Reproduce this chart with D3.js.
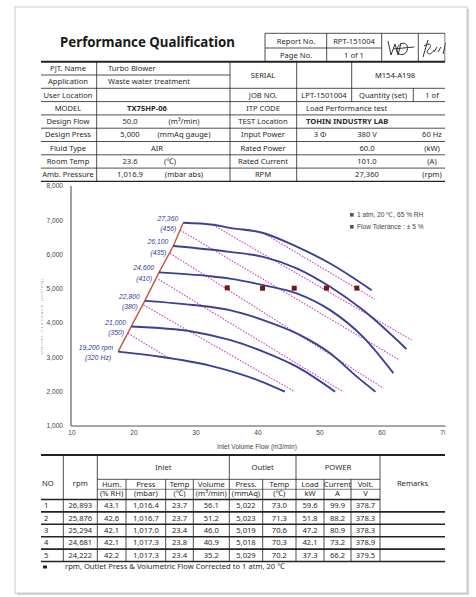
<!DOCTYPE html>
<html lang="en">
<head>
    <meta charset="UTF-8">
    <title>Performance Qualification</title>
    <script src="https://d3js.org/d3.v7.min.js"></script>
    <style>
        html, body { margin: 0; padding: 0; background: #fff; }
        svg { display: block; font-family: 'Noto Sans', 'Open Sans', sans-serif; }
        .tbl { fill: #2a2a2a; font-size: 7.6px; }
        .tick-label { fill: #444; font-size: 6.6px; font-family: 'Liberation Sans', Arial, sans-serif; }
        .speed-label { fill: #2e3a96; font-size: 6.8px; font-style: italic; font-family: 'Liberation Sans', Arial, sans-serif; }
    </style>
</head>
<body>
<svg id="page" width="476" height="597"></svg>
<script>
    // --- Data ---
    const xTicks = [10, 20, 30, 40, 50, 60, 70];
    const yTicks = [1000, 2000, 3000, 4000, 5000, 6000, 7000, 8000];

    const speedLabels = ["27,360", "26,100", "24,600", "22,800", "21,000", "19,200 rpm"];
    const hzLabels = ["(456)", "(435)", "(410)", "(380)", "(350)", "(320 Hz)"];

    // performance curves, [flow m3/min, pressure mmAq]
    const curve27360 = [[28.1, 6930], [33, 6870], [35.6, 6780], [41, 6630], [46.4, 6230], [51.8, 5740], [58.5, 4960]];
    const curve26100 = [[26.5, 6250], [35.6, 6080], [41, 5935], [46.4, 5600], [51.8, 5060], [57.1, 4380], [64.1, 3245]];
    const curve24600 = [[24.2, 5480], [32.4, 5370], [35.6, 5300], [41, 5110], [46.4, 4870], [51.8, 4380], [57.1, 3600], [62, 2540]];
    const curve22800 = [[21.9, 4650], [29.7, 4530], [35.6, 4380], [41, 4090], [46.4, 3700], [51.8, 3120], [56.1, 2440], [59.1, 2000]];
    const curve21000 = [[19.7, 3900], [29.7, 3750], [35.6, 3510], [41, 3170], [46.4, 2730], [52.6, 2000]];
    const curve19200 = [[17.6, 3170], [24.4, 3020], [32.4, 2760], [40.5, 2310], [44.5, 2000]];
    const curves = [curve27360, curve26100, curve24600, curve22800, curve21000, curve19200];

    // dotted diagonal lines
    const dottedLines = [
        [[41.0, 6630], [59.0, 4700]],
        [[32.95, 6860], [64.95, 3507]],
        [[27.6, 6714], [62.8, 2945]],
        [[26.0, 6035], [60.4, 2100]],
        [[24.1, 5277], [53.9, 2000]],
        [[21.7, 4528], [46.1, 2000]],
        [[19.2, 3703], [25.6, 3000]]
    ];

    // test results
    const runNo = [1, 2, 3, 4, 5];
    const rpm = [26893, 25876, 25294, 24681, 24222];
    const hum = [43.1, 42.6, 42.1, 42.1, 42.2];
    const inletPress = [1016.4, 1016.7, 1017.0, 1017.3, 1017.3];
    const inletTemp = [23.7, 23.7, 23.4, 23.8, 23.4];
    const volume = [56.1, 51.2, 46.0, 40.9, 35.2];
    const outletPress = [5022, 5023, 5019, 5018, 5029];
    const outletTemp = [73.0, 71.3, 70.6, 70.3, 70.2];
    const load = [59.6, 51.8, 47.2, 42.1, 37.3];
    const current = [99.9, 88.2, 80.9, 73.2, 66.2];
    const volt = [378.7, 378.3, 378.3, 378.9, 379.5];

    // header table
    const infoLabels = ["PJT. Name", "Application", "User Location", "MODEL", "Design Flow", "Design Press", "Fluid Type", "Room Temp", "Amb. Pressure"];
    const infoValues = ["Turbo Blower", "Waste water treatment", "", "TX75HP-06", "50.0", "5,000", "AIR", "23.6", "1,016.9"];
    const infoUnits = ["", "", "", "", "(m³/min)", "(mmAq gauge)", "", "(℃)", "(mbar abs)"];
    const rightLabels = ["", "", "JOB NO.", "ITP CODE", "TEST Location", "Input Power", "Rated Power", "Rated Current", "RPM"];
    const rightValues = ["", "", "", "", "", "380 V", "60.0", "101.0", "27,360"];
    const rightUnits = ["", "", "1 of", "", "", "60 Hz", "(kW)", "(A)", "(rpm)"];

    // --- Setup ---
    const svg = d3.select("#page");
    svg.append("rect").attr("width", 476).attr("height", 597).attr("fill", "#fff");

    // page frame with a soft shadow
    svg.append("rect").attr("x", 17).attr("y", 9).attr("width", 452).attr("height", 586).attr("fill", "#d4d4d4");
    svg.append("rect").attr("x", 15).attr("y", 7).attr("width", 452).attr("height", 586)
        .attr("fill", "#fff").attr("stroke", "#c9c9c9").attr("stroke-width", 1);

    svg.append("clipPath").attr("id", "doc").append("rect")
        .attr("x", 41).attr("y", 7).attr("width", 404.5).attr("height", 586);
    const doc = svg.append("g").attr("clip-path", "url(#doc)");

    function hline(g, x1, x2, y, w) {
        g.append("line").attr("x1", x1).attr("x2", x2).attr("y1", y).attr("y2", y)
            .attr("stroke", "#222").attr("stroke-width", w || 0.8);
    }
    function vline(g, x, y1, y2, w) {
        g.append("line").attr("x1", x).attr("x2", x).attr("y1", y1).attr("y2", y2)
            .attr("stroke", "#222").attr("stroke-width", w || 0.8);
    }
    function txt(g, x, y, s, anchor, extra) {
        const t = g.append("text").attr("class", "tbl").attr("x", x).attr("y", y)
            .attr("text-anchor", anchor || "middle").text(s);
        if (extra) extra(t);
        return t;
    }

    // --- Title + report box ---
    svg.append("text").attr("x", 60).attr("y", 47).attr("font-size", 15).attr("font-weight", 700)
        .attr("fill", "#1a1a1a").attr("textLength", 175).attr("lengthAdjust", "spacingAndGlyphs")
        .text("Performance Qualification");

    const rep = doc.append("g");
    hline(rep, 265, 445, 33.3);
    hline(rep, 265, 381.7, 48);
    [265, 326.7, 381.7, 418.3, 445].forEach(x => vline(rep, x, 33.3, 61.7));
    txt(rep, 296, 43.5, "Report No.").attr("font-size", 6.8);
    txt(rep, 354, 43.5, "RPT-151004").attr("font-size", 6.8);
    txt(rep, 296, 57.5, "Page No.").attr("font-size", 6.8);
    txt(rep, 354, 57.5, "1 of 1").attr("font-size", 6.8);
    // signatures
    rep.append("path").attr("d", "M388,41 L391,55 L395,44 L398,55 L401,43 M397,49 C400,40 410,42 407,51 C404,57 396,55 397,49 M393,49 L414,47")
        .attr("fill", "none").attr("stroke", "#333").attr("stroke-width", 1);
    rep.append("path").attr("d", "M423,57 L428,40 M424,46 C430,42 433,45 428,50 C425,54 431,56 434,50 M434,52 L437,47 M438,52 L441,47 M443,54 L446,42")
        .attr("fill", "none").attr("stroke", "#333").attr("stroke-width", 1);

    // --- Info table ---
    const info = doc.append("g");
    const rowTop = 61.7, rowH = 13.3, nRows = infoLabels.length;
    const rowY = i => rowTop + rowH * i;
    hline(info, 38, 445, rowTop, 2);
    for (let i = 1; i < nRows; i++) {
        if (i === 1) hline(info, 38, 230, rowY(i));
        else hline(info, 38, 445, rowY(i));
    }
    hline(info, 38, 445, rowY(nRows), 1.4);
    [96.7, 230, 296.7].forEach(x => vline(info, x, rowTop, rowY(nRows)));
    vline(info, 351.7, rowTop, rowY(3));
    vline(info, 413.3, rowY(2), rowY(3));

    infoLabels.forEach((s, i) => {
        const y = rowY(i) + rowH / 2 + 2.6;
        txt(info, 68, y, s);
        if (i < 2) txt(info, 108, y, infoValues[i], "start");
        else if (i === 3) txt(info, 147, y, infoValues[i], "middle", t => t.attr("font-weight", 700).attr("font-size", 6.2));
        else if (i === 6) txt(info, 157, y, infoValues[i]);
        else if (infoValues[i]) txt(info, 130, y, infoValues[i]);
        if (infoUnits[i]) txt(info, i === 7 ? 170 : 184, y, infoUnits[i]);
        if (rightLabels[i]) txt(info, 263, y, rightLabels[i]);
        if (rightValues[i]) txt(info, 367, y, rightValues[i]);
        if (rightUnits[i]) txt(info, 432, y, rightUnits[i]);
    });
    txt(info, 263, rowY(1) + 2.6, "SERIAL");
    txt(info, 395, rowY(1) + 2.6, "M154-A198");
    txt(info, 324, rowY(2) + rowH / 2 + 2.6, "LPT-1501004");
    txt(info, 383, rowY(2) + rowH / 2 + 2.6, "Quantity (set)");
    txt(info, 306, rowY(3) + rowH / 2 + 2.6, "Load Performance test", "start");
    txt(info, 306, rowY(4) + rowH / 2 + 2.6, "TOHIN INDUSTRY LAB", "start", t => t.attr("font-weight", 700).attr("font-size", 6.2));
    txt(info, 320, rowY(5) + rowH / 2 + 2.6, "3 Φ");

    // --- Chart ---
    const x = d3.scaleLinear().domain([10, 70]).range([71, 443]);
    const y = d3.scaleLinear().domain([1000, 8000]).range([426, 186]);
    const chart = doc.append("g");

    chart.append("line").attr("x1", x(10)).attr("x2", x(10)).attr("y1", y(8000)).attr("y2", y(1000))
        .attr("stroke", "#8a8a8a").attr("stroke-width", 1.6);
    chart.append("line").attr("x1", x(10)).attr("x2", 446).attr("y1", y(1000)).attr("y2", y(1000))
        .attr("stroke", "#8a8a8a").attr("stroke-width", 1.6);

    chart.selectAll(".ytick").data(yTicks).join("text")
        .attr("class", "tick-label").attr("x", 63).attr("y", d => y(d) + 2.3)
        .attr("text-anchor", "end").text(d => d3.format(",")(d));
    chart.selectAll(".xtick").data(xTicks).join("text")
        .attr("class", "tick-label").attr("x", d => x(d) + 1).attr("y", 435)
        .attr("text-anchor", "middle").text(d => d);
    chart.append("text").attr("class", "tick-label").attr("x", 257).attr("y", 448.5)
        .attr("text-anchor", "middle").attr("font-size", 6.2).text("Inlet Volume Flow (m3/min)");
    chart.append("text").attr("transform", "translate(43,316) rotate(-90)")
        .attr("text-anchor", "middle").attr("font-size", 4.5).attr("fill", "#999")
        .attr("letter-spacing", 1.2).text("Outlet Pressure (mmAq)");

    const line = d3.line().x(d => x(d[0])).y(d => y(d[1]));

    // surge line through the curve start points
    const surge = curves.map(c => c[0]);
    chart.append("path").attr("d", line(surge)).attr("fill", "none")
        .attr("stroke", "#c8553a").attr("stroke-width", 1.4);

    // dotted diagonal lines
    chart.selectAll(".dot-line").data(dottedLines).join("path")
        .attr("d", line).attr("fill", "none")
        .attr("stroke", "#cc44cc").attr("stroke-width", 1.1).attr("stroke-dasharray", "1.6,1.4");

    // speed curves
    const smooth = d3.line().x(d => x(d[0])).y(d => y(d[1])).curve(d3.curveMonotoneX);
    chart.selectAll(".speed").data(curves).join("path")
        .attr("d", smooth).attr("fill", "none")
        .attr("stroke", "#3a3f98").attr("stroke-width", 1.9);

    // speed labels
    curves.forEach((c, i) => {
        const sx = x(c[0][0]) - 5, sy = y(c[0][1]);
        chart.append("text").attr("class", "speed-label").attr("x", sx).attr("y", sy - 2)
            .attr("text-anchor", "end").text(speedLabels[i]);
        chart.append("text").attr("class", "speed-label").attr("x", sx - 2).attr("y", sy + 8.5)
            .attr("text-anchor", "end").text(hzLabels[i]);
    });

    // test points
    chart.selectAll(".pt").data(volume).join("rect")
        .attr("x", (d, i) => x(d) - 2.5).attr("y", (d, i) => y(outletPress[i]) - 2.5)
        .attr("width", 5).attr("height", 5).attr("fill", "#7a1414");

    // legend
    const legendItems = ["1 atm, 20 ℃, 65 % RH", "Flow Tolerance : ± 5 %"];
    legendItems.forEach((s, i) => {
        chart.append("rect").attr("x", 350).attr("y", 213 + i * 12).attr("width", 3.6).attr("height", 3.6).attr("fill", "#555");
        chart.append("text").attr("class", "tick-label").attr("x", 357).attr("y", 217 + i * 12)
            .attr("font-size", 6.2).text(s);
    });

    // --- Result table ---
    const res = doc.append("g");
    const tTop = 455, h1 = 479.3, h2 = 489.3, h3 = 499.5, dRow = 12.4;
    const tBottom = h3 + dRow * runNo.length;
    const colX = [41, 63.3, 97.3, 126, 165.7, 193.3, 229.3, 262.7, 296, 324, 351, 380, 445];
    hline(res, 38, 445, tTop, 2);
    hline(res, 97.3, 380, h1);
    hline(res, 97.3, 380, h2, 0.6);
    hline(res, 38, 380, h3, 1.6);
    for (let i = 1; i <= runNo.length; i++) hline(res, 38, 445, h3 + dRow * i, 1.6);
    [63.3, 97.3, 229.3, 296, 380].forEach(cx => vline(res, cx, tTop, tBottom));
    [126, 165.7, 193.3, 262.7, 324, 351].forEach(cx => vline(res, cx, h1, tBottom));

    txt(res, 42, 486, "NO", "start");
    txt(res, 80.3, 486, "rpm");
    txt(res, 163.3, 469.5, "Inlet");
    txt(res, 262.7, 469.5, "Outlet");
    txt(res, 338, 469.5, "POWER");
    txt(res, 412.5, 486, "Remarks");
    const subHead = ["Hum.", "Press", "Temp", "Volume", "Press.", "Temp", "Load", "Current", "Volt."];
    const subUnit = ["(% RH)", "(mbar)", "(℃)", "(m³/min)", "(mmAq)", "(℃)", "kW", "A", "V"];
    subHead.forEach((s, i) => {
        const cx = (colX[i + 2] + colX[i + 3]) / 2;
        txt(res, cx, 487, s).attr("font-size", 6.2);
        txt(res, cx, 496, subUnit[i]).attr("font-size", 4.6);
    });

    const fmt1 = d3.format(".1f"), fmtC = d3.format(","), fmtC1 = d3.format(",.1f");
    const rowsData = runNo.map((n, i) => [
        fmtC(rpm[i]), fmt1(hum[i]), fmtC1(inletPress[i]), fmt1(inletTemp[i]), fmt1(volume[i]),
        fmtC(outletPress[i]), fmt1(outletTemp[i]), fmt1(load[i]), fmt1(current[i]), fmt1(volt[i])
    ]);
    rowsData.forEach((r, i) => {
        const ry = h3 + dRow * i + dRow / 2 + 2.5;
        txt(res, 44, ry, runNo[i], "start");
        r.forEach((s, j) => {
            txt(res, (colX[j + 1] + colX[j + 2]) / 2, ry, s).attr("font-size", 7);
        });
    });

    res.append("rect").attr("x", 43).attr("y", tBottom + 4).attr("width", 4).attr("height", 3).attr("fill", "#222");
    txt(res, 65, tBottom + 7.5, "rpm, Outlet Press & Volumetric Flow Corrected to 1 atm, 20 ℃", "start")
        .attr("font-size", 6.4).attr("fill", "#555");
</script>
</body>
</html>
